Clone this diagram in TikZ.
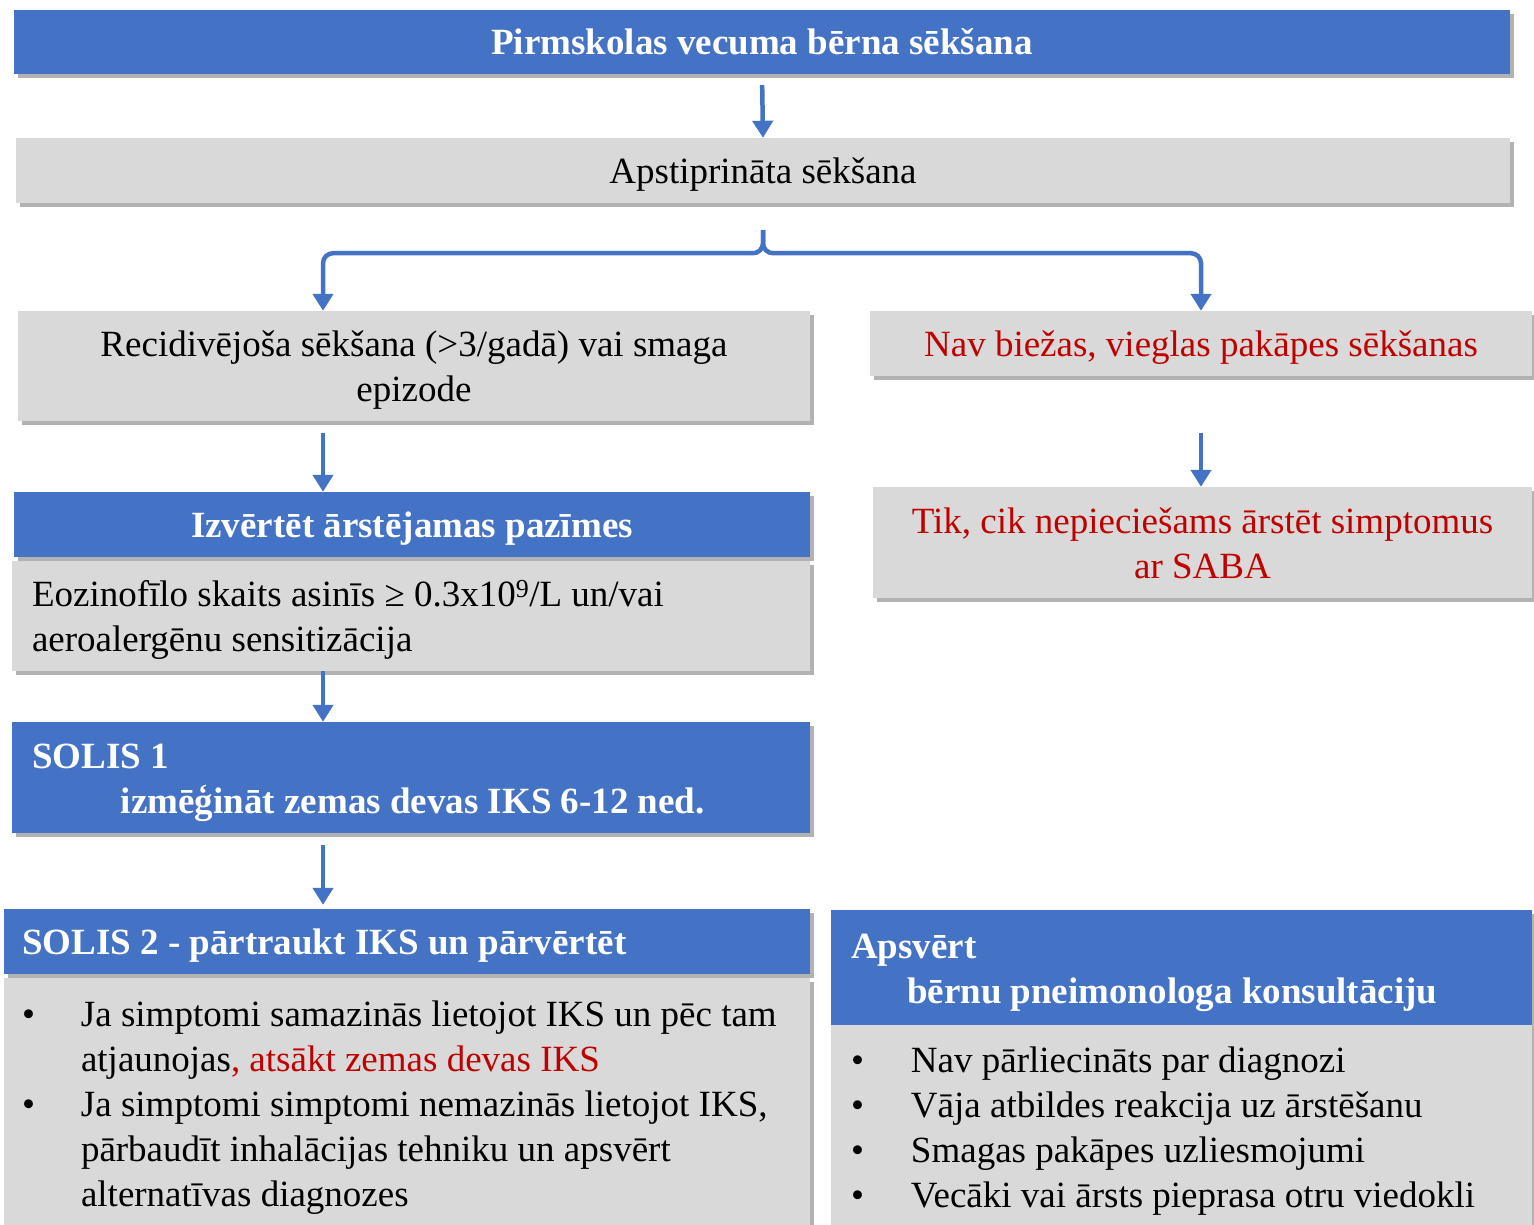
\documentclass[tikz,border=0pt]{standalone}
\usepackage{fontspec}
\setmainfont{Liberation Serif}
\usetikzlibrary{arrows.meta,shadows}
\definecolor{boxblue}{HTML}{4472C4}
\definecolor{boxgray}{HTML}{D9D9D9}
\definecolor{warnred}{HTML}{C00000}
\tikzset{
  card/.style={inner sep=0pt, text height=34pt, text depth=8pt,
    drop shadow={shadow xshift=4pt,shadow yshift=-4pt,opacity=.3,fill=black}},
  bluecard/.style={card, fill=boxblue, text=white, font=\bfseries\fontsize{37}{45}\selectfont},
  graycard/.style={card, fill=boxgray, font=\fontsize{37}{45}\selectfont},
  lines/.style={text depth=#1},
  arr/.style={boxblue, line width=4.5pt, -{Triangle[width=20pt,length=17pt]}},
}
\newcommand{\bul}[1]{\makebox[#1][l]{\textbullet}}

\begin{document}
\begin{tikzpicture}[x=1pt,y=-1pt]
        \fill[white] (0,0) rectangle (1534,1225);
        \useasboundingbox (0,0) rectangle (1534,1225);
        \coordinate (lcol) at (323,0);
        \coordinate (rcol) at (1201,0);

        \node[bluecard, minimum width=1496pt, minimum height=64pt] (title) at (762,42)
          {Pirmskolas vecuma bērna sēkšana};
        \node[graycard, minimum width=1494pt, minimum height=65pt] (confirmed) at (763,170.5)
          {Apstiprināta sēkšana};

        \node[graycard, lines=53pt, minimum width=792pt, minimum height=110pt, text width=772pt, align=flush center] (recur) at (414,366)
          {Recidivējoša sēkšana (>3/gadā) vai smaga\\epizode};
        \node[graycard, text=warnred, minimum width=662pt, minimum height=65pt] (mild) at (1201,343.5)
          {Nav biežas, vieglas pakāpes sēkšanas};

        \node[bluecard, minimum width=796pt, minimum height=65pt] (assess) at (412,524.5)
          {Izvērtēt ārstējamas pazīmes};
        \node[graycard, lines=53pt, minimum width=798pt, minimum height=110pt, text width=758pt, align=flush left] (eos) at (411,616)
          {Eozinofīlo skaits asinīs ≥ 0.3x10\textsuperscript{9}/L un/vai\\aeroalergēnu sensitizācija};
        \node[graycard, lines=53pt, text=warnred, minimum width=659pt, minimum height=111pt, text width=639pt, align=flush center] (saba) at (1202.5,542.5)
          {Tik, cik nepieciešams ārstēt simptomus\\ar SABA};

        \node[bluecard, lines=53pt, minimum width=798pt, minimum height=111pt, text width=758pt, align=flush left] (step1) at (411,777.5)
          {SOLIS 1\\\hspace*{89pt}izmēģināt zemas devas IKS 6-12 ned.};

        \node[bluecard, minimum width=806pt, minimum height=65pt, text width=770pt, align=flush left] (step2) at (407,941.5)
          {SOLIS 2 - pārtraukt IKS un pārvērtēt};
        \node[graycard, lines=188pt, minimum width=806pt, minimum height=250pt, text width=770pt, align=flush left] (step2list) at (407,1103)
          {\bul{59pt}Ja simptomi samazinās lietojot IKS un pēc tam\\
           \hspace*{59pt}atjaunojas\textcolor{warnred}{, atsākt zemas devas IKS}\\
           \bul{59pt}Ja simptomi simptomi nemazinās lietojot IKS,\\
           \hspace*{59pt}pārbaudīt inhalācijas tehniku un apsvērt\\
           \hspace*{59pt}alternatīvas diagnozes};

        \node[bluecard, lines=53pt, minimum width=701pt, minimum height=115pt, text width=661pt, align=flush left] (consult) at (1181.5,967.5)
          {Apsvērt\\\hspace*{56pt}bērnu pneimonologa konsultāciju};
        \node[graycard, lines=143pt, minimum width=701pt, minimum height=203pt, text width=661pt, align=flush left] (consultlist) at (1181.5,1126.5)
          {\bul{60pt}Nav pārliecināts par diagnozi\\
           \bul{60pt}Vāja atbildes reakcija uz ārstēšanu\\
           \bul{60pt}Smagas pakāpes uzliesmojumi\\
           \bul{60pt}Vecāki vai ārsts pieprasa otru viedokli};

        % arrows
        \path[arr]
        (title.south) edge[shorten <=11pt] (confirmed.north)
        (recur.south -| lcol) edge[shorten <=12pt] (assess.north -| lcol)
        (mild.south -| rcol) edge[shorten <=57pt] (saba.north -| rcol)
        (eos.south -| lcol) edge (step1.north -| lcol)
        (step1.south -| lcol) edge[shorten <=12pt, shorten >=4pt] (step2.north -| lcol)
        ;
        \draw[arr, rounded corners=10pt, shorten <=27pt] (confirmed.south) -- ++(0,50) -| (recur.north -| lcol);
        \draw[arr, rounded corners=10pt, shorten <=27pt] (confirmed.south) -- ++(0,50) -| (mild.north -| rcol);
\end{tikzpicture}
\end{document}
